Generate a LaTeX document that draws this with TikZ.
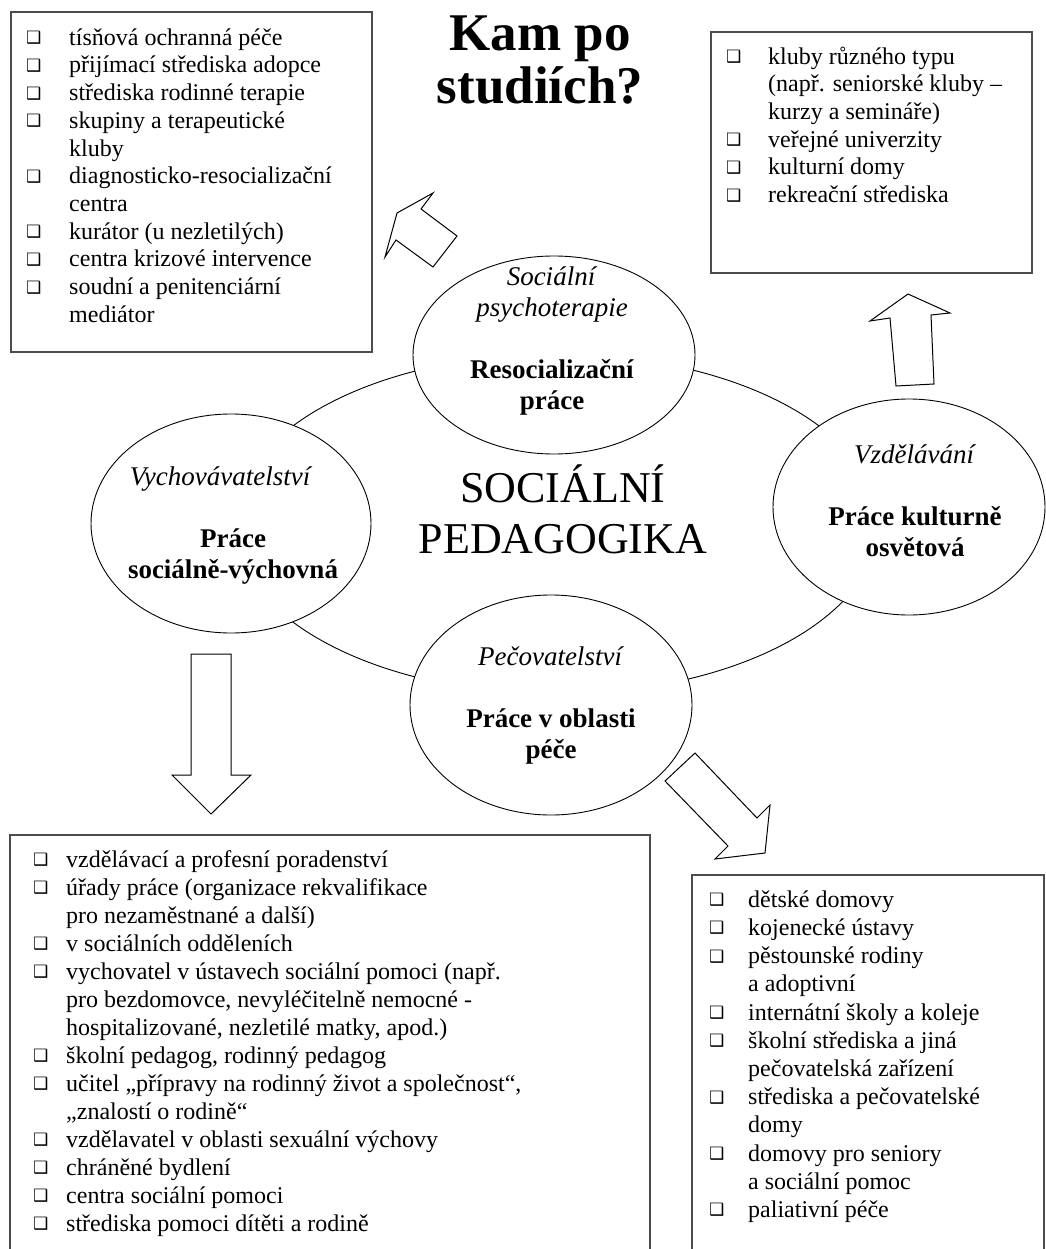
\documentclass[tikz,border=0pt]{standalone}
\usepackage{fontspec}
\setmainfont{Liberation Serif}
\newfontfamily\dejavu{DejaVu Sans}
\usetikzlibrary{shapes.geometric}
\newcommand\bulglyph{\raisebox{1.5pt}{\dejavu\fontsize{17}{17}\selectfont ❑}}
\newcommand\li[1]{\makebox[#1][l]{\bulglyph}}
\newcommand\co[1]{\hspace*{#1}}
\begin{document}
\begin{tikzpicture}[x=1pt,y=-1pt,
  box/.style={draw=black!70, line width=1.5pt},
  circ/.style={draw, ellipse, fill=white, line width=0.9pt, inner sep=0pt},
  blockarrow/.style={draw, fill=white, line width=1pt, line join=miter},
  listtxt/.style={anchor=north west, inner sep=0pt, align=left, font=\fontsize{24}{27.7}\selectfont},
  ctxt/.style={anchor=north, inner sep=0pt, align=center, font=\fontsize{27}{31}\selectfont},
]
\useasboundingbox (0,0) rectangle (1045,1249);
\fill[white] (0,0) rectangle (1045,1249);

% boxes
\draw[box] (11,12) rectangle (372,352);
\draw[box] (711,32) rectangle (1032,273);
\draw[box] (10,835) rectangle (650,1262);
\draw[box] (692,875) rectangle (1044,1262);

% title
\node[anchor=north, inner sep=0pt, align=center, font=\fontsize{53}{53}\selectfont\bfseries] (title) at (540,2) {\rule{0pt}{48pt}Kam po\\studiích?};

% lists
\node[listtxt] (listTL) at (26,19) {\rule{0pt}{26pt}\li{43pt}tísňová ochranná péče\\
\li{43pt}přijímací střediska adopce\\
\li{43pt}střediska rodinné terapie\\
\li{43pt}skupiny a terapeutické\\
\co{43pt}kluby\\
\li{43pt}diagnosticko-resocializační\\
\co{43pt}centra\\
\li{43pt}kurátor (u nezletilých)\\
\li{43pt}centra krizové intervence\\
\li{43pt}soudní a penitenciární\\
\co{43pt}mediátor};

\node[listtxt] (listTR) at (726,38) {\rule{0pt}{26pt}\li{42pt}kluby různého typu\\
\co{42pt}(např. seniorské kluby –\\
\co{42pt}kurzy a semináře)\\
\li{42pt}veřejné univerzity\\
\li{42pt}kulturní domy\\
\li{42pt}rekreační střediska};

\node[listtxt, font=\fontsize{24}{28}\selectfont] (listBL) at (33,841) {\rule{0pt}{26pt}\li{33pt}vzdělávací a profesní poradenství\\
\li{33pt}úřady práce (organizace rekvalifikace\\
\co{33pt}pro nezaměstnané a další)\\
\li{33pt}v sociálních odděleních\\
\li{33pt}vychovatel v ústavech sociální pomoci (např.\\
\co{33pt}pro bezdomovce, nevyléčitelně nemocné -\\
\co{33pt}hospitalizované, nezletilé matky, apod.)\\
\li{33pt}školní pedagog, rodinný pedagog\\
\li{33pt}učitel „přípravy na rodinný život a společnost“,\\
\co{33pt}„znalostí o rodině“\\
\li{33pt}vzdělavatel v oblasti sexuální výchovy\\
\li{33pt}chráněné bydlení\\
\li{33pt}centra sociální pomoci\\
\li{33pt}střediska pomoci dítěti a rodině};

\node[listtxt, font=\fontsize{24}{28.2}\selectfont] (listBR) at (709,881) {\rule{0pt}{26pt}\li{39pt}dětské domovy\\
\li{39pt}kojenecké ústavy\\
\li{39pt}pěstounské rodiny\\
\co{39pt}a adoptivní\\
\li{39pt}internátní školy a koleje\\
\li{39pt}školní střediska a jiná\\
\co{39pt}pečovatelská zařízení\\
\li{39pt}střediska a pečovatelské\\
\co{39pt}domy\\
\li{39pt}domovy pro seniory\\
\co{39pt}a sociální pomoc\\
\li{39pt}paliativní péče};

% big ellipse
\draw[line width=0.9pt] (556,524) ellipse [x radius=322, y radius=170];

% circles
\node[circ, minimum width=282pt, minimum height=198pt] (ctop) at (554,355) {};
\node[circ, minimum width=280pt, minimum height=219pt] (cleft) at (231,523.5) {};
\node[circ, minimum width=272pt, minimum height=216pt] (cright) at (909,507) {};
\node[circ, minimum width=282pt, minimum height=220pt] (cbot) at (551,705) {};

% center text
\node[anchor=north, inner sep=0pt, align=center, font=\fontsize{44}{51}\selectfont] (center) at (563,462) {\rule{0pt}{40pt}SOCIÁLNÍ\\PEDAGOGIKA};

% circle texts
\node[ctxt] (ttop) at (552,261) {\rule{0pt}{24pt}\textit{Sociální}\\ \textit{psychoterapie}\\[31pt] \textbf{Resocializační}\\ \textbf{práce}};
\node[ctxt] (tleft) at (233,461) {\rule{0pt}{24pt}\textit{Vychovávatelství}\hspace*{24pt}\\[31pt] \textbf{Práce}\\ \textbf{sociálně-výchovná}};
\node[ctxt] (tright) at (915,439) {\rule{0pt}{24pt}\textit{Vzdělávání}\\[31pt] \textbf{Práce kulturně}\\ \textbf{osvětová}};
\node[ctxt] (tbot) at (551,641) {\rule{0pt}{24pt}\textit{Pečovatelství}\\[31pt] \textbf{Práce v oblasti}\\ \textbf{péče}};

% block arrows
\draw[blockarrow] (433,193) -- (421,209) -- (457,236) -- (433,267) -- (396,240) -- (385,257) -- (397,213) -- cycle;
\draw[blockarrow] (908,294) -- (950,313) -- (931,315) -- (934,384) -- (896,386) -- (890,318) -- (870,321) -- cycle;
\draw[blockarrow] (191,654) -- (231,654) -- (231,775) -- (251,775) -- (211,814) -- (172,775) -- (191,775) -- cycle;
\draw[blockarrow] (695,753) -- (757,818) -- (770,805) -- (765,853) -- (715,859) -- (728,846) -- (665,781) -- cycle;
\end{tikzpicture}
\end{document}
